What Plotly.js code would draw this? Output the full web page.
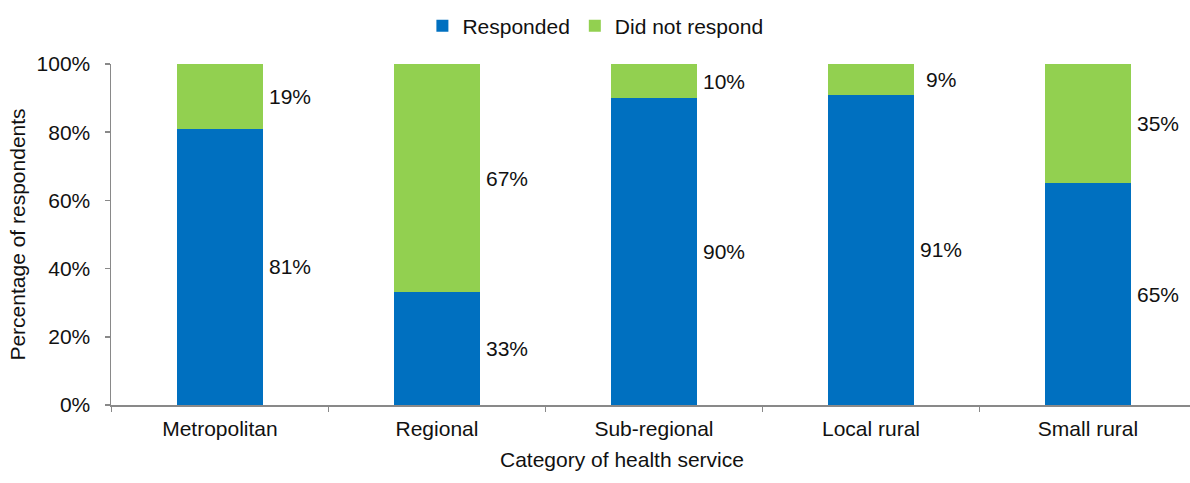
<!DOCTYPE html>
<html>
<head>
<meta charset="utf-8">
<script src="https://cdn.plot.ly/plotly-3.0.1.min.js"></script>
<style>
  html, body { margin: 0; padding: 0; background: #fff; }
  #chart { width: 1190px; height: 483px; }
</style>
</head>
<body>
<div id="chart"></div>
<script>
// Survey response by category of health service (percent of services)
const categories = ['Metropolitan', 'Regional', 'Sub-regional', 'Local rural', 'Small rural'];
const responded = [81, 33, 90, 91, 65];
const didNotRespond = [19, 67, 10, 9, 35];
const yTickValues = [0, 20, 40, 60, 80, 100];
const yTickLabels = ['0%', '20%', '40%', '60%', '80%', '100%'];

const FONT = '"Liberation Sans", Arial, Helvetica, sans-serif';
const TEXT = '#111111';
const BLUE = '#0070C0';
const GREEN = '#92D050';
const AXIS = '#898989';
const SIZE = 21;

const traces = [
  { type: 'bar', name: 'Responded', x: categories, y: responded,
    marker: { color: BLUE }, hoverinfo: 'x+y+name' },
  { type: 'bar', name: 'Did not respond', x: categories, y: didNotRespond,
    marker: { color: GREEN }, hoverinfo: 'x+y+name' }
];

// Percentage labels to the right of each stacked segment, at its midpoint
const annotations = [];
categories.forEach((cat, i) => {
  annotations.push({
    x: cat, y: responded[i] / 2, xref: 'x', yref: 'y',
    text: responded[i] + '%', showarrow: false,
    xanchor: 'center', yanchor: 'middle', xshift: 70,
    font: { family: FONT, size: SIZE, color: TEXT }
  });
  annotations.push({
    x: cat, y: responded[i] + didNotRespond[i] / 2, xref: 'x', yref: 'y',
    text: didNotRespond[i] + '%', showarrow: false,
    xanchor: 'center', yanchor: 'middle', xshift: 70,
    font: { family: FONT, size: SIZE, color: TEXT }
  });
});

// x-axis caption, centred under the chart body
annotations.push({
  xref: 'paper', yref: 'paper', x: 0.4736, y: -0.161,
  xanchor: 'center', yanchor: 'middle', showarrow: false,
  text: 'Category of health service',
  font: { family: FONT, size: SIZE, color: TEXT }
});

const layout = {
  width: 1190, height: 483,
  paper_bgcolor: '#ffffff', plot_bgcolor: '#ffffff',
  margin: { l: 111, r: 0, t: 64, b: 78, pad: 0 },
  font: { family: FONT, size: SIZE, color: TEXT },
  barmode: 'stack',
  bargap: 0.6,
  showlegend: true,
  legend: {
    orientation: 'h', traceorder: 'normal',
    x: 0.2886, xanchor: 'left', y: 1.111, yanchor: 'middle',
    font: { family: FONT, size: SIZE, color: TEXT },
    bgcolor: 'rgba(0,0,0,0)'
  },
  xaxis: {
    type: 'category',
    range: [-0.502, 4.470],
    showline: true, linecolor: AXIS, linewidth: 1.5,
    ticks: 'outside', tickson: 'boundaries', ticklen: 5, tickwidth: 1.5, tickcolor: AXIS,
    ticklabelstandoff: 4,
    showgrid: false, zeroline: false,
    tickfont: { family: FONT, size: SIZE, color: TEXT },
    fixedrange: true
  },
  yaxis: {
    range: [0, 100],
    tickvals: yTickValues, ticktext: yTickLabels,
    showline: true, linecolor: AXIS, linewidth: 1.5,
    ticks: 'outside', ticklen: 5, tickwidth: 1.5, tickcolor: AXIS,
    ticklabelstandoff: 10,
    showgrid: false, zeroline: false,
    tickfont: { family: FONT, size: SIZE, color: TEXT },
    title: { text: 'Percentage of respondents', standoff: 5,
             font: { family: FONT, size: SIZE, color: TEXT } },
    fixedrange: true
  },
  annotations: annotations
};

Plotly.newPlot('chart', traces, layout, { displayModeBar: false, staticPlot: true });
</script>
</body>
</html>
